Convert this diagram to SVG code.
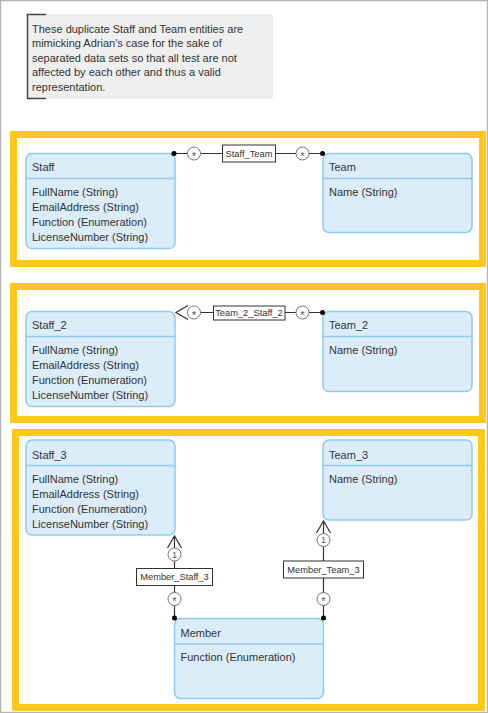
<svg xmlns="http://www.w3.org/2000/svg" width="488" height="713" viewBox="0 0 488 713">
<style>
  text { font-family: "Liberation Sans", Arial, sans-serif; fill: #333; }
  .frame { fill: none; stroke: #ffc91a; stroke-width: 7; }
  .ent { fill: #dbedf8; stroke: #8fcbee; stroke-width: 1.5; }
  .div { stroke: #8fcbee; stroke-width: 1.5; }
  .t { font-size: 11px; }
  .lbl { fill: #fff; stroke: #333; stroke-width: 1; }
  .lt { font-size: 9.3px; text-anchor: middle; }
  .ln { stroke: #333; stroke-width: 1.2; fill: none; }
  .mc { fill: #fff; stroke: #777; stroke-width: 1; }
  .mt { font-size: 9px; text-anchor: middle; fill: #555; }
  .ms { font-size: 11px; text-anchor: middle; fill: #555; }
  .dot { fill: #000; }
</style>
<rect x="0.5" y="0.5" width="487" height="712" fill="#fff" stroke="#b5b5b5" stroke-width="1.5"/>

<g id="note">
  <rect x="27" y="14" width="246" height="85" fill="#efefef"/>
  <path d="M46,14.5 H27.5 V98.5 H46" fill="none" stroke="#444" stroke-width="1.5"/>
  <text class="t" x="32" y="32.5">These duplicate Staff and Team entities are</text>
  <text class="t" x="32" y="47">mimicking Adrian's case for the sake of</text>
  <text class="t" x="32" y="61.5">separated data sets so that all test are not</text>
  <text class="t" x="32" y="76">affected by each other and thus a valid</text>
  <text class="t" x="32" y="91">representation.</text>
</g>

<g id="frame1"><rect class="frame" x="13.5" y="134.5" width="469" height="129"/></g>
<g id="frame2"><rect class="frame" x="13.5" y="286.5" width="469" height="133"/></g>
<g id="frame3"><rect class="frame" x="15.5" y="432.5" width="466" height="275"/></g>

<g id="Staff">
  <rect class="ent" x="26" y="153.5" width="149" height="95" rx="6"/>
  <line class="div" x1="26" y1="178.5" x2="175" y2="178.5"/>
  <text class="t" x="32" y="170.5">Staff</text>
  <text class="t" x="32" y="195.5">FullName (String)</text>
  <text class="t" x="32" y="210.5">EmailAddress (String)</text>
  <text class="t" x="32" y="225.5">Function (Enumeration)</text>
  <text class="t" x="32" y="240.5">LicenseNumber (String)</text>
</g>
<g id="Team">
  <rect class="ent" x="323" y="153.5" width="149" height="79" rx="6"/>
  <line class="div" x1="323" y1="178.5" x2="472" y2="178.5"/>
  <text class="t" x="329" y="170.5">Team</text>
  <text class="t" x="329" y="195.5">Name (String)</text>
</g>

<g id="Staff_2">
  <rect class="ent" x="26" y="311.5" width="149" height="95" rx="6"/>
  <line class="div" x1="26" y1="336.5" x2="175" y2="336.5"/>
  <text class="t" x="32" y="329">Staff_2</text>
  <text class="t" x="32" y="354">FullName (String)</text>
  <text class="t" x="32" y="369">EmailAddress (String)</text>
  <text class="t" x="32" y="384">Function (Enumeration)</text>
  <text class="t" x="32" y="399">LicenseNumber (String)</text>
</g>
<g id="Team_2">
  <rect class="ent" x="323" y="311.5" width="149" height="80" rx="6"/>
  <line class="div" x1="323" y1="336.5" x2="472" y2="336.5"/>
  <text class="t" x="329" y="329">Team_2</text>
  <text class="t" x="329" y="354">Name (String)</text>
</g>

<g id="Staff_3">
  <rect class="ent" x="26" y="440" width="149" height="95" rx="6"/>
  <line class="div" x1="26" y1="465.5" x2="175" y2="465.5"/>
  <text class="t" x="32" y="458.5">Staff_3</text>
  <text class="t" x="32" y="482.5">FullName (String)</text>
  <text class="t" x="32" y="497.5">EmailAddress (String)</text>
  <text class="t" x="32" y="512.5">Function (Enumeration)</text>
  <text class="t" x="32" y="527.5">LicenseNumber (String)</text>
</g>
<g id="Team_3">
  <rect class="ent" x="323" y="440" width="149" height="80" rx="6"/>
  <line class="div" x1="323" y1="465.5" x2="472" y2="465.5"/>
  <text class="t" x="329" y="458.5">Team_3</text>
  <text class="t" x="329" y="482.5">Name (String)</text>
</g>
<g id="Member">
  <rect class="ent" x="174.5" y="618.5" width="149" height="80" rx="6"/>
  <line class="div" x1="174.5" y1="644" x2="323.5" y2="644"/>
  <text class="t" x="180.5" y="636.5">Member</text>
  <text class="t" x="180.5" y="660.5">Function (Enumeration)</text>
</g>

<g id="connectors">
  <g id="Staff_Team">
    <line class="ln" x1="174" y1="153.5" x2="323" y2="153.5"/>
    <circle class="dot" cx="174" cy="153.5" r="2.5"/>
    <circle class="dot" cx="322.5" cy="153.5" r="2.5"/>
    <circle class="mc" cx="194" cy="153.5" r="6.5"/>
    <text class="ms" x="194" y="159.5">*</text>
    <circle class="mc" cx="302.5" cy="153.5" r="6.5"/>
    <text class="ms" x="302.5" y="159.5">*</text>
    <rect class="lbl" x="222.5" y="145" width="53" height="17"/>
    <text class="lt" x="249" y="156.8">Staff_Team</text>
  </g>
  <g id="Team_2_Staff_2">
    <line class="ln" x1="187.5" y1="312.5" x2="323" y2="312.5"/>
    <path class="ln" d="M188,305.5 L176,312.5 L188,319.5"/>
    <circle class="dot" cx="322.5" cy="312.5" r="2.5"/>
    <circle class="mc" cx="194" cy="312.5" r="6.5"/>
    <text class="ms" x="194" y="318.5">*</text>
    <circle class="mc" cx="302.5" cy="312.5" r="6.5"/>
    <text class="ms" x="302.5" y="318.5">*</text>
    <rect class="lbl" x="213.5" y="306" width="71.5" height="14"/>
    <text class="lt" x="249" y="316.3">Team_2_Staff_2</text>
  </g>
  <g id="Member_Staff_3">
    <line class="ln" x1="174.5" y1="536" x2="174.5" y2="618"/>
    <path class="ln" d="M167.5,548 L174.5,536 L181.5,548"/>
    <circle class="dot" cx="174.5" cy="618" r="2.5"/>
    <circle class="mc" cx="174.5" cy="554.5" r="6.5"/>
    <text class="mt" x="174.5" y="557.8">1</text>
    <circle class="mc" cx="174.5" cy="599" r="6.5"/>
    <text class="ms" x="174.5" y="605">*</text>
    <rect class="lbl" x="136.5" y="568.5" width="76" height="17"/>
    <text class="lt" x="174.5" y="580.3">Member_Staff_3</text>
  </g>
  <g id="Member_Team_3">
    <line class="ln" x1="323.5" y1="521" x2="323.5" y2="618"/>
    <path class="ln" d="M316.5,533 L323.5,521 L330.5,533"/>
    <circle class="dot" cx="323.5" cy="618" r="2.5"/>
    <circle class="mc" cx="323.5" cy="540" r="6.5"/>
    <text class="mt" x="323.5" y="543.3">1</text>
    <circle class="mc" cx="323.5" cy="599" r="6.5"/>
    <text class="ms" x="323.5" y="605">*</text>
    <rect class="lbl" x="283.5" y="561" width="80" height="17"/>
    <text class="lt" x="323.5" y="572.8">Member_Team_3</text>
  </g>
</g>
</svg>
